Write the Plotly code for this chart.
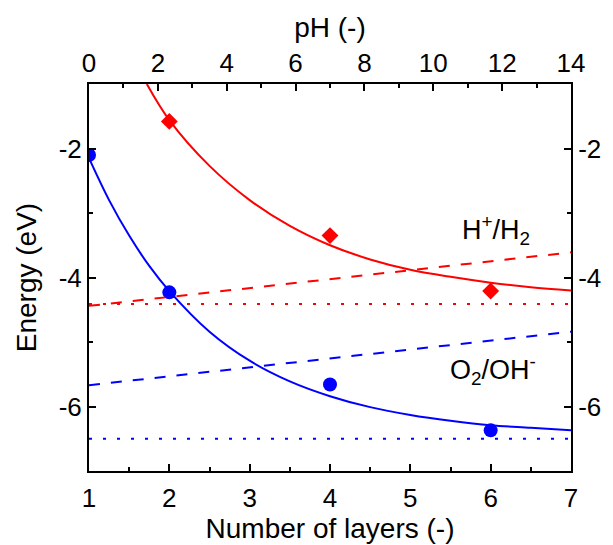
import plotly.graph_objects as go

# ---- data ----
# measured band-edge energies vs number of layers
red_layers = [2, 4, 6]
red_energy = [-1.58, -3.35, -4.21]
blue_layers = [1, 2, 4, 6]
blue_energy = [-2.10, -4.23, -5.66, -6.37]

# fitted (smooth) curves
red_fit_layers = [1.72, 2.0, 2.5, 3.0, 3.5, 4.0, 4.5, 5.0, 5.5, 6.0, 6.5, 7.0]
red_fit_energy = [-1.00, -1.56, -2.27, -2.80, -3.20, -3.50, -3.72, -3.88, -3.99, -4.08, -4.15, -4.20]
blue_fit_layers = [1.0, 1.25, 1.5, 1.75, 2.0, 2.5, 3.0, 3.5, 4.0, 4.5, 5.0, 5.5, 6.0, 6.5, 7.0]
blue_fit_energy = [-2.15, -2.80, -3.35, -3.82, -4.21, -4.84, -5.29, -5.61, -5.84, -6.01, -6.13, -6.22, -6.29, -6.33, -6.37]

# redox potentials vs pH (top axis)
ph_ends = [0, 14]
h2_energy = [-4.44, -3.61]
o2_energy = [-5.67, -4.84]

# dotted reference levels vs layers
dot_layers = [1, 7]
red_dot_level = [-4.41, -4.41]
blue_dot_level = [-6.50, -6.50]

y_tickvals = [-6, -4, -2]
y_ticktext = ["-6", "-4", "-2"]

RED = "#ff0000"
BLUE = "#0000ff"
FONT = "Liberation Sans, Arial, sans-serif"

fig = go.Figure()

fig.add_trace(go.Scatter(x=dot_layers, y=red_dot_level, mode="lines",
                         line=dict(color=RED, width=2, dash="3px,11px"), hoverinfo="skip"))
fig.add_trace(go.Scatter(x=dot_layers, y=blue_dot_level, mode="lines",
                         line=dict(color=BLUE, width=2, dash="3px,11px"), hoverinfo="skip"))
fig.add_trace(go.Scatter(x=ph_ends, y=h2_energy, mode="lines", xaxis="x2", yaxis="y",
                         line=dict(color=RED, width=2, dash="11px,11px")))
fig.add_trace(go.Scatter(x=ph_ends, y=o2_energy, mode="lines", xaxis="x2", yaxis="y",
                         line=dict(color=BLUE, width=2, dash="11px,11px")))
fig.add_trace(go.Scatter(x=red_fit_layers, y=red_fit_energy, mode="lines",
                         line=dict(color=RED, width=2, shape="spline")))
fig.add_trace(go.Scatter(x=blue_fit_layers, y=blue_fit_energy, mode="lines",
                         line=dict(color=BLUE, width=2, shape="spline")))
fig.add_trace(go.Scatter(x=red_layers, y=red_energy, mode="markers",
                         marker=dict(symbol="diamond", size=13, color=RED)))
fig.add_trace(go.Scatter(x=blue_layers, y=blue_energy, mode="markers",
                         marker=dict(symbol="circle", size=14, color=BLUE)))
# anchor trace for the mirrored right axis
fig.add_trace(go.Scatter(x=[4], y=[-4], xaxis="x", yaxis="y2", mode="markers",
                         marker=dict(opacity=0), hoverinfo="skip"))

common = dict(showgrid=False, zeroline=False, showline=True, linewidth=2, linecolor="black",
              ticks="inside", ticklen=7, tickwidth=2, tickcolor="black",
              tickfont=dict(size=26, color="black", family=FONT))

fig.update_layout(
    width=613, height=545,
    margin=dict(l=89, r=34, t=84, b=63),
    paper_bgcolor="white", plot_bgcolor="white",
    showlegend=False,
    font=dict(family=FONT, color="black"),
    xaxis=dict(range=[1, 7], tick0=1, dtick=1, ticklabelstandoff=3,
               minor=dict(tick0=1, dtick=0.5, ticks="inside", ticklen=4, tickwidth=2, tickcolor="black"),
               title=dict(text="Number of layers (-)", font=dict(size=28), standoff=0),
               **common),
    xaxis2=dict(range=[0, 14], tick0=0, dtick=2, overlaying="x", side="top", anchor="y",
                minor=dict(tick0=0, dtick=1, ticks="inside", ticklen=4, tickwidth=2, tickcolor="black"),
                title=dict(text="pH (-)", font=dict(size=28), standoff=2),
                **common),
    yaxis=dict(range=[-7, -1], tickvals=y_tickvals, ticktext=y_ticktext,
               minor=dict(tick0=-7, dtick=1, ticks="inside", ticklen=4, tickwidth=2, tickcolor="black"),
               title=dict(text="Energy (eV)", font=dict(size=28), standoff=14),
               **common),
    yaxis2=dict(range=[-7, -1], tickvals=y_tickvals, ticktext=y_ticktext, overlaying="y",
                side="right", anchor="x",
                minor=dict(tick0=-7, dtick=1, ticks="inside", ticklen=4, tickwidth=2, tickcolor="black"),
                **common),
    annotations=[
        dict(x=6.07, y=-3.27, xref="x", yref="y", text="H<sup>+</sup>/H<sub>2</sub>",
             showarrow=False, font=dict(size=27, color="black", family=FONT)),
        dict(x=6.03, y=-5.44, xref="x", yref="y", text="O<sub>2</sub>/OH<sup>-</sup>",
             showarrow=False, font=dict(size=27, color="black", family=FONT)),
    ],
)

fig.write_html("out.html")
